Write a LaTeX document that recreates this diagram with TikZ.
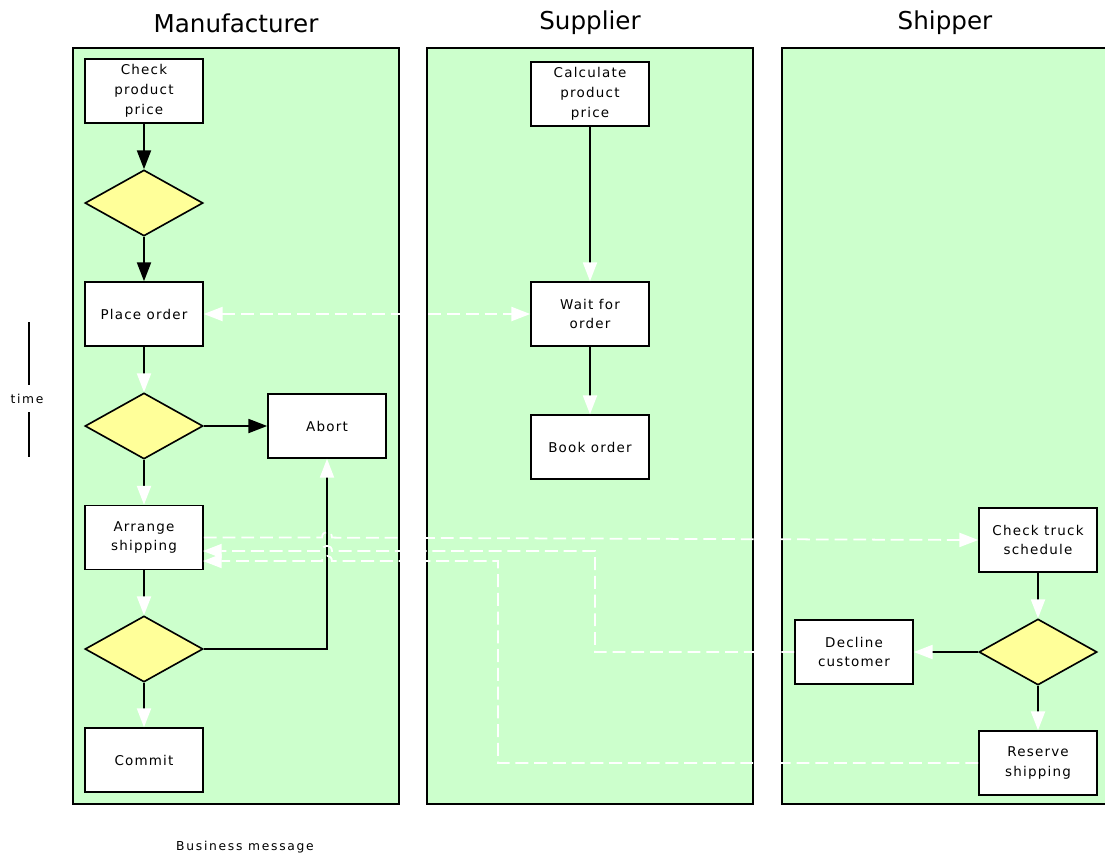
\documentclass[tikz,border=0pt]{standalone}
\usepackage{fontspec}
\setmainfont{DejaVu Sans}
\newfontfamily\nodefont[LetterSpace=9]{DejaVu Sans}
\newfontfamily\smallfont[LetterSpace=14]{DejaVu Sans}
\usetikzlibrary{shapes.geometric,arrows.meta}
\definecolor{lanegreen}{HTML}{CCFFCC}
\definecolor{decyellow}{HTML}{FFFF99}
\tikzset{
  lane/.style={draw=black,line width=1.4pt,fill=lanegreen,minimum width=9.78cm,minimum height=22.68cm,inner sep=0pt},
  title/.style={font=\fontsize{21}{24}\selectfont},
  task/.style={draw=black,line width=1.4pt,fill=white,minimum width=3.54cm,minimum height=1.92cm,align=center,inner sep=1pt,font=\nodefont\fontsize{11.5}{17}\selectfont},
  decision/.style={diamond,draw=black,line width=1.4pt,fill=decyellow,minimum width=3.54cm,minimum height=1.98cm,inner sep=0pt},
  bhead/.style={-{Triangle[length=16pt,width=12pt]}},
  whead/.style={-{Triangle[length=16pt,width=12pt,fill=white,color=white]}},
  flowb/.style={line width=1.4pt,bhead},
  floww/.style={line width=1.4pt,whead},
  msg/.style={white,line width=1.5pt,dash pattern=on 11pt off 5pt},
  small/.style={font=\smallfont\fontsize{10.5}{12}\selectfont}
}
\begin{document}
\begin{tikzpicture}[x=0.03cm,y=-0.03cm]
\clip (0,0) rectangle (1105,861);
\fill[white] (0,0) rectangle (1105,861);
% lanes
\node[lane] (laneM) at (236,426) {};
\node[lane] (laneS) at (590,426) {};
\node[lane,minimum width=9.84cm] (laneH) at (946,426) {};
\node[title] (tM) at (236,23) {Manufacturer};
\node[title] (tS) at (590,23) {Supplier};
\node[title] (tH) at (945,23) {Shipper};
% manufacturer
\node[task] (check) at (144,91) {Check\\product\\price};
\node[decision] (d1) at (144,203) {};
\node[task] (place) at (144,314) {Place order};
\node[decision] (d2) at (144,426) {};
\node[task] (abort) at (327,426) {Abort};
\node[task] (arrange) at (144,537.5) {Arrange\\shipping};
\node[decision] (d3) at (144,649) {};
\node[task] (commit) at (144,760) {Commit};
% supplier
\node[task] (calc) at (590,94) {Calculate\\product\\price};
\node[task] (wait) at (590,314) {Wait for\\order};
\node[task] (book) at (590,447) {Book order};
% shipper
\node[task] (truck) at (1038,540) {Check truck\\schedule};
\node[decision] (d4) at (1038,652) {};
\node[task] (decline) at (854,652) {Decline\\customer};
\node[task] (reserve) at (1038,763) {Reserve\\shipping};
% solid flows
\draw[flowb] (check) -- (d1);
\draw[flowb] (d1) -- (place);
\draw[floww] (place) -- (d2);
\draw[flowb] (d2) -- (abort);
\draw[floww] (d2) -- (arrange);
\draw[floww] (arrange) -- (d3);
\draw[floww] (d3) -- (commit);
\draw[floww] (d3.east) -| (abort.south);
\draw[floww] (calc) -- (wait);
\draw[floww] (wait) -- (book);
\draw[floww] (truck) -- (d4);
\draw[floww] (d4) -- (decline);
\draw[floww] (d4) -- (reserve);
% messages
\draw[msg,{Triangle[length=16pt,width=12pt,fill=white,color=white]}-{Triangle[length=16pt,width=12pt,fill=white,color=white]}] (place.east) -- (wait.west);
\coordinate (h1a) at (322,537.5);
\coordinate (h1b) at (332,537.6);
\draw[msg,whead] (arrange.east) -- (h1a) .. controls (322,530) and (332,530) .. (h1b) -- (truck.west);
\coordinate (c2a) at (595,652);
\coordinate (c2b) at (595,551);
\coordinate (h2a) at (332,551);
\coordinate (h2b) at (322,551);
\coordinate (e2) at (203,551);
\draw[msg,whead] (decline.west) -- (c2a) -- (c2b) -- (h2a) .. controls (332,544) and (322,544) .. (h2b) -- (e2);
\coordinate (c3a) at (498,763);
\coordinate (c3b) at (498,561);
\coordinate (h3a) at (332,561);
\coordinate (h3b) at (322,561);
\coordinate (e3) at (203,561);
\draw[msg,whead] (reserve.west) -- (c3a) -- (c3b) -- (h3a) .. controls (332,554) and (322,554) .. (h3b) -- (e3);
% time axis
\node[small] (time) at (27,399) {time};
\coordinate (t1) at (29,322);
\coordinate (t1b) at (29,385);
\coordinate (t2a) at (29,412);
\coordinate (t2) at (29,457);
\draw[line width=1.4pt] (t1) -- (t1b);
\draw[line width=1.4pt] (t2a) -- (t2);
\node[small] (bm) at (245,847) {Business message};
\end{tikzpicture}
\end{document}
